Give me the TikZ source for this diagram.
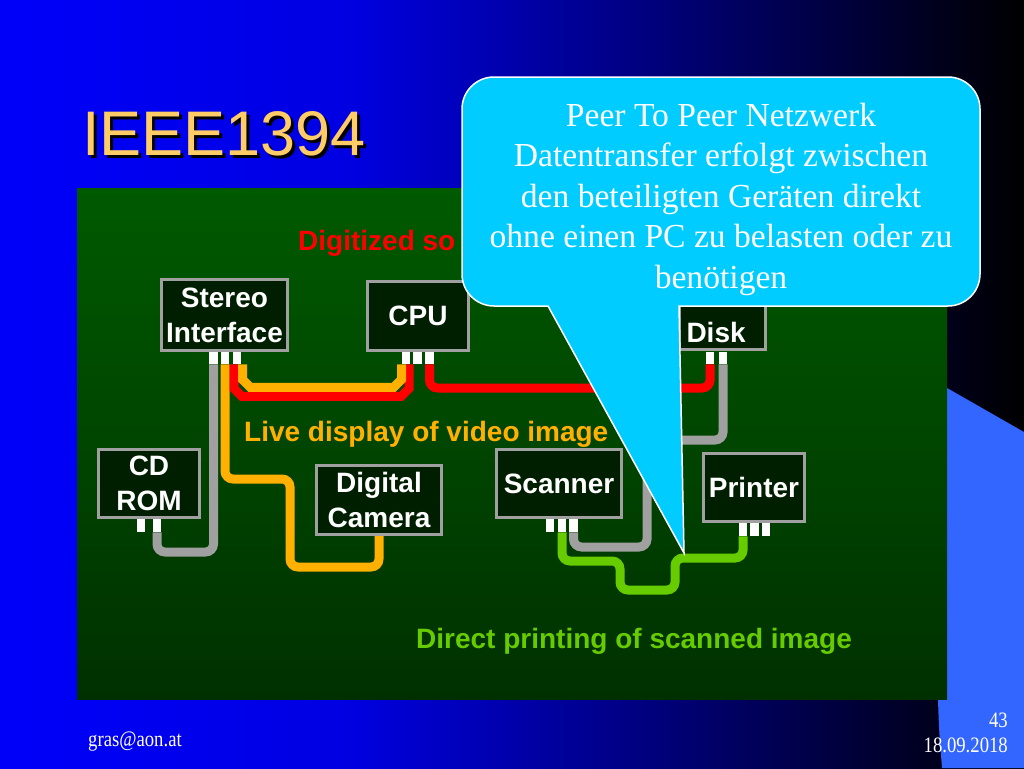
\documentclass[tikz,border=0pt]{standalone}
\usepackage{fontspec}
\setmainfont{Liberation Serif}
\newfontfamily\arialfam{Liberation Sans}
\newfontfamily\footfam{Liberation Serif}[FakeStretch=0.85]
\usetikzlibrary{calc}
\definecolor{bgA}{RGB}{0,0,250}
\definecolor{bgB}{RGB}{0,0,225}
\definecolor{sideblue}{RGB}{51,102,255}
\definecolor{pnlTop}{RGB}{0,90,0}
\definecolor{pnlBot}{RGB}{0,48,0}
\definecolor{titlecol}{RGB}{255,204,102}
\definecolor{boxfill}{RGB}{0,30,0}
\definecolor{boxgray}{RGB}{160,160,160}
\definecolor{cgray}{RGB}{160,160,160}
\definecolor{corange}{RGB}{255,176,0}
\definecolor{cred}{RGB}{255,0,0}
\definecolor{cgreen}{RGB}{102,204,0}
\definecolor{callcol}{RGB}{0,204,255}
\newcommand\lblfont{\arialfam\bfseries\fontsize{28}{35}\selectfont}
\newcommand\callfont{\fontsize{33.6}{40.5}\selectfont}
\newcommand\footfont{\footfam\fontsize{22}{26}\selectfont}
\newcommand\shadowtext[1]{\rlap{\hspace{3pt}\raisebox{-3pt}{\color{black}#1}}#1}
\begin{document}
\begin{tikzpicture}[x=1pt,y=-1pt,
  devbox/.style={draw=boxgray, line width=3pt, fill=boxfill, text=white,
    font=\lblfont, align=center, inner sep=0pt},
  port/.style={fill=white, minimum width=8.5pt, inner sep=0pt, anchor=north},
  cable/.style={line width=9pt},
  gcable/.style={cable, draw=cgray, rounded corners=8pt},
  ocable/.style={cable, draw=corange},
  rcable/.style={cable, draw=cred},
  grcable/.style={cable, draw=cgreen, rounded corners=8pt},
  lbl/.style={font=\lblfont, anchor=base west, inner sep=0pt},
  foot/.style={font=\footfont, text=white, inner sep=0pt}]
\useasboundingbox (0,0) rectangle (1024,768);
% background
\shade[left color=bgA, right color=bgB] (0,0) rectangle (351,768);
\shade[left color=bgB, right color=black] (350,0) rectangle (1024,768);
\fill[sideblue] (947,388) -- (1024,432) -- (1024,768) -- (942,768)
  .. controls (939,730) .. (938,700) -- (938,388) -- cycle;
% green panel
\shade[top color=pnlTop, bottom color=pnlBot] (77,188) rectangle (947,699);
% title with drop shadow
\node[font=\arialfam\fontsize{63}{70}\selectfont, text=titlecol, anchor=base west, inner sep=0pt] (title) at (82,155) {\shadowtext{IEEE1394}};
% labels
\node[lbl, text=cred] (lsound) at (298,250) {Digitized so};
\node[lbl, text=corange] (lvideo) at (244,441) {Live display of video image};
\node[lbl, text=cgreen] (lprint) at (416,648) {Direct printing of scanned image};
% ports
\foreach \n/\x in {si1/213.5, si2/225, si3/237, cp1/406, cp2/417.5, cp3/429.5, dk1/710, dk2/723}
  \node[port, minimum height=12pt] (\n) at (\x,352) {};
\foreach \n/\x in {cd1/141, cd2/157, sc1/550, sc2/562, sc3/573.5}
  \node[port, minimum height=13pt] (\n) at (\x,519) {};
\foreach \n/\x in {pr1/743, pr2/754.5, pr3/766}
  \node[port, minimum height=13pt] (\n) at (\x,523) {};
% boxes
\node[devbox, minimum width=126pt, minimum height=71pt] (stereo) at (224.5,315) {Stereo\\Interface};
\node[devbox, minimum width=101pt, minimum height=69pt] (cpu) at (418,316) {CPU};
\node[devbox, minimum width=101pt, minimum height=68pt] (cdrom) at (149,483.5) {CD\\ROM};
\node[devbox, minimum width=125pt, minimum height=69pt] (cam) at (379,500) {Digital\\Camera};
\node[devbox, minimum width=125pt, minimum height=68pt] (scan) at (559,483.5) {Scanner};
\node[devbox, minimum width=101pt, minimum height=68pt] (prn) at (754,487.5) {Printer};
\node[devbox, anchor=south west, text width=72pt, align=left, inner xsep=7pt,
  inner ysep=7pt, text height=55pt, text depth=0pt] (disk) at (678,351) {Disk};
% cables
\draw[gcable] (si1.south) |- (cd2.south |- 0,552) -- (cd2.south);
\draw[ocable, rounded corners=8pt] (si2.south) |- (290,479) |- (cam.south |- 0,567) -- (cam.south);
\draw[rcable] ($(si3.south)+(-3,0)$) -- ++(0,24) -- ++(8,8) -- ($(cp1.south)+(-5,32)$) -- ++(8,-8) -- ($(cp1.south)+(3,0)$);
\draw[ocable] ($(si3.south)+(5.5,0)$) -- ++(0,15) -- ++(8,8) -- ($(cp1.south)+(-12.5,23)$) -- ++(8,-8) -- ($(cp1.south)+(-4.5,0)$);
\draw[rcable, rounded corners=8pt] (cp3.south) |- (dk1.south |- 0,388) -- (dk1.south);
\draw[gcable] (dk2.south) |- (647,440) |- (sc3.south |- 0,547) -- (sc3.south);
\draw[grcable] (sc2.south) |- (620,561) |- (675,590) |- (pr1.south |- 0,558) -- (pr1.south);
% callout
\path[fill=callcol, draw=white, line width=1.5pt]
  (462,109) arc[start angle=180, end angle=270, radius=32] -- (948,77)
  arc[start angle=270, end angle=360, radius=32] -- (980,274)
  arc[start angle=0, end angle=90, radius=32] -- (679,306) -- (684,553) -- (548,306)
  -- (494,306) arc[start angle=90, end angle=180, radius=32] -- cycle;
\node[font=\callfont, text=white, align=center, inner sep=0pt] (note) at (721,199)
  {Peer To Peer Netzwerk\\Datentransfer erfolgt zwischen\\den beteiligten Geräten direkt\\ohne einen PC zu belasten oder zu\\benötigen};
% footer
\node[foot, anchor=base west] (mail) at (88,746) {gras@aon.at};
\node[foot, anchor=base east] (page) at (1008,727) {43};
\node[foot, anchor=base east] (date) at (1008,752) {18.09.2018};
\end{tikzpicture}
\end{document}
